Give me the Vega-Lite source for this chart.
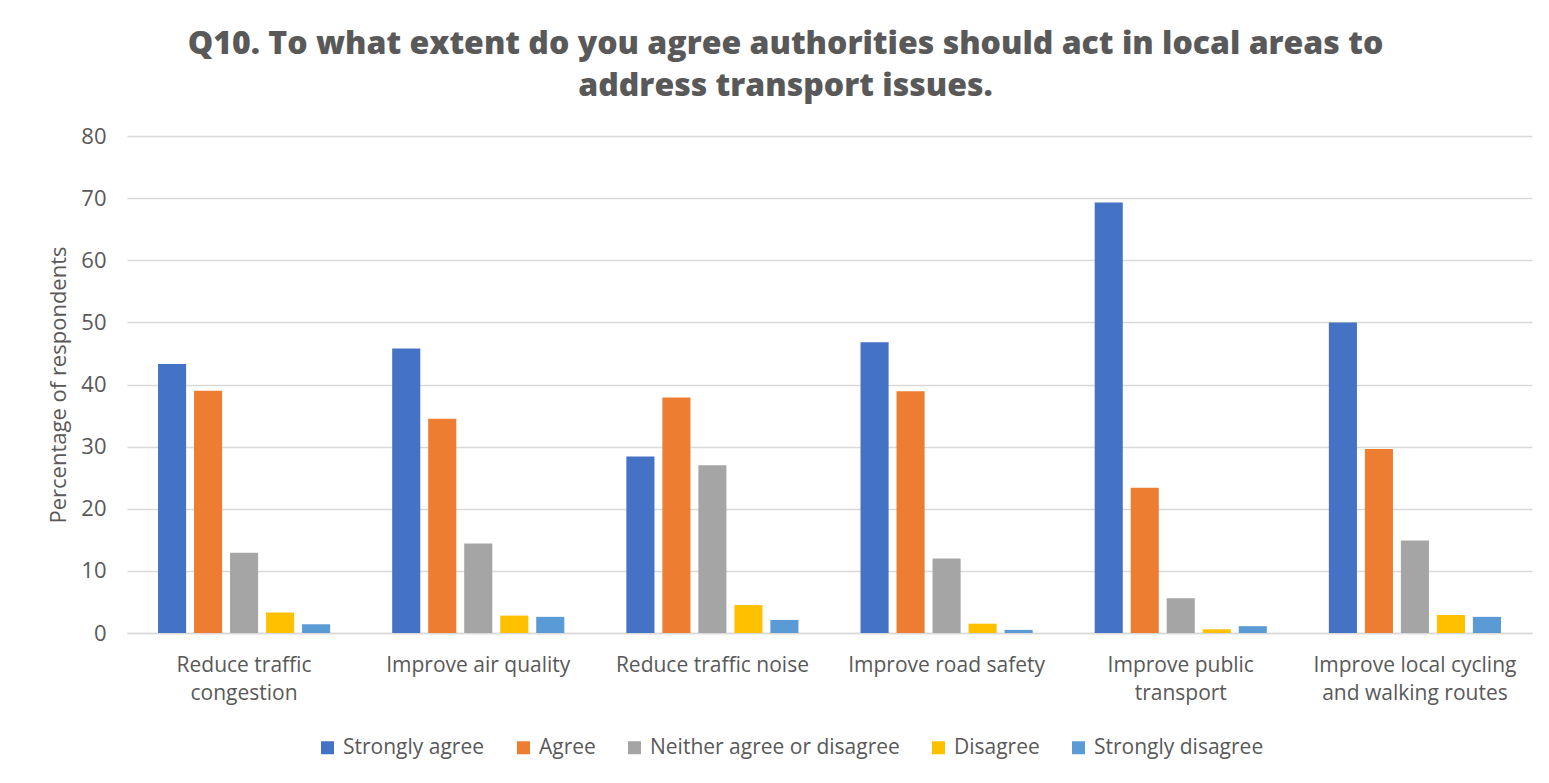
{
  "$schema": "https://vega.github.io/schema/vega-lite/v6.json",
  "width": 1405,
  "height": 497,
  "autosize": {"type": "none"},
  "padding": {"left": 127, "top": 136, "right": 17, "bottom": 150},
  "background": "white",
  "title": {
    "text": ["Q10. To what extent do you agree authorities should act in local areas to", "address transport issues."],
    "font": "Open Sans",
    "fontSize": 32,
    "fontWeight": 800,
    "color": "#595959",
    "anchor": "middle",
    "dx": -44,
    "offset": 22,
    "lineHeight": 42
  },
  "data": {
    "values": [
      {"issue": "Reduce traffic congestion", "response": "Strongly agree", "pct": 43.3},
      {"issue": "Reduce traffic congestion", "response": "Agree", "pct": 39.0},
      {"issue": "Reduce traffic congestion", "response": "Neither agree or disagree", "pct": 12.9},
      {"issue": "Reduce traffic congestion", "response": "Disagree", "pct": 3.3},
      {"issue": "Reduce traffic congestion", "response": "Strongly disagree", "pct": 1.4},
      {"issue": "Improve air quality", "response": "Strongly agree", "pct": 45.8},
      {"issue": "Improve air quality", "response": "Agree", "pct": 34.5},
      {"issue": "Improve air quality", "response": "Neither agree or disagree", "pct": 14.4},
      {"issue": "Improve air quality", "response": "Disagree", "pct": 2.8},
      {"issue": "Improve air quality", "response": "Strongly disagree", "pct": 2.6},
      {"issue": "Reduce traffic noise", "response": "Strongly agree", "pct": 28.4},
      {"issue": "Reduce traffic noise", "response": "Agree", "pct": 37.9},
      {"issue": "Reduce traffic noise", "response": "Neither agree or disagree", "pct": 27.0},
      {"issue": "Reduce traffic noise", "response": "Disagree", "pct": 4.5},
      {"issue": "Reduce traffic noise", "response": "Strongly disagree", "pct": 2.1},
      {"issue": "Improve road safety", "response": "Strongly agree", "pct": 46.8},
      {"issue": "Improve road safety", "response": "Agree", "pct": 38.9},
      {"issue": "Improve road safety", "response": "Neither agree or disagree", "pct": 12.0},
      {"issue": "Improve road safety", "response": "Disagree", "pct": 1.5},
      {"issue": "Improve road safety", "response": "Strongly disagree", "pct": 0.5},
      {"issue": "Improve public transport", "response": "Strongly agree", "pct": 69.3},
      {"issue": "Improve public transport", "response": "Agree", "pct": 23.4},
      {"issue": "Improve public transport", "response": "Neither agree or disagree", "pct": 5.6},
      {"issue": "Improve public transport", "response": "Disagree", "pct": 0.6},
      {"issue": "Improve public transport", "response": "Strongly disagree", "pct": 1.1},
      {"issue": "Improve local cycling and walking routes", "response": "Strongly agree", "pct": 50.0},
      {"issue": "Improve local cycling and walking routes", "response": "Agree", "pct": 29.6},
      {"issue": "Improve local cycling and walking routes", "response": "Neither agree or disagree", "pct": 14.9},
      {"issue": "Improve local cycling and walking routes", "response": "Disagree", "pct": 2.9},
      {"issue": "Improve local cycling and walking routes", "response": "Strongly disagree", "pct": 2.6}
    ]
  },
  "mark": {"type": "bar"},
  "encoding": {
    "x": {
      "field": "issue",
      "type": "nominal",
      "sort": ["Reduce traffic congestion", "Improve air quality", "Reduce traffic noise", "Improve road safety", "Improve public transport", "Improve local cycling and walking routes"],
      "scale": {"paddingInner": 0.265, "paddingOuter": 0.1325},
      "axis": {
        "title": null,
        "labelAngle": 0,
        "labelFont": "Open Sans",
        "labelFontSize": 21,
        "labelColor": "#595959",
        "labelLineHeight": 28,
        "labelPadding": 21,
        "labelLimit": 400,
        "ticks": false,
        "domain": true,
        "domainColor": "#D9D9D9",
        "domainWidth": 1.5,
        "labelExpr": "datum.value == 'Reduce traffic congestion' ? ['Reduce traffic', 'congestion'] : datum.value == 'Improve public transport' ? ['Improve public', 'transport'] : datum.value == 'Improve local cycling and walking routes' ? ['Improve local cycling', 'and walking routes'] : datum.value"
      }
    },
    "xOffset": {
      "field": "response",
      "type": "nominal",
      "sort": ["Strongly agree", "Agree", "Neither agree or disagree", "Disagree", "Strongly disagree"],
      "scale": {"paddingInner": 0.22, "paddingOuter": 0}
    },
    "y": {
      "field": "pct",
      "type": "quantitative",
      "scale": {"domain": [0, 80]},
      "axis": {
        "title": "Percentage of respondents",
        "titleFont": "Open Sans",
        "titleFontSize": 22,
        "titleFontWeight": "normal",
        "titleColor": "#595959",
        "titlePadding": 10,
        "values": [0, 10, 20, 30, 40, 50, 60, 70, 80],
        "labelFont": "Open Sans",
        "labelFontSize": 22,
        "labelColor": "#595959",
        "labelPadding": 21,
        "ticks": false,
        "domain": false,
        "grid": true,
        "gridColor": "#D9D9D9",
        "gridWidth": 1.5
      }
    },
    "color": {
      "field": "response",
      "type": "nominal",
      "scale": {
        "domain": ["Strongly agree", "Agree", "Neither agree or disagree", "Disagree", "Strongly disagree"],
        "range": ["#4472C4", "#ED7D31", "#A5A5A5", "#FFC000", "#5B9BD5"]
      },
      "legend": {
        "title": null,
        "orient": "none",
        "legendX": 190,
        "legendY": 601,
        "direction": "horizontal",
        "symbolType": "square",
        "symbolSize": 169,
        "symbolStrokeWidth": 0,
        "labelFont": "Open Sans",
        "labelFontSize": 21,
        "labelLimit": 500,
        "labelColor": "#595959",
        "labelOffset": 5,
        "columnPadding": 28
      }
    }
  },
  "config": {"view": {"stroke": null}}
}
